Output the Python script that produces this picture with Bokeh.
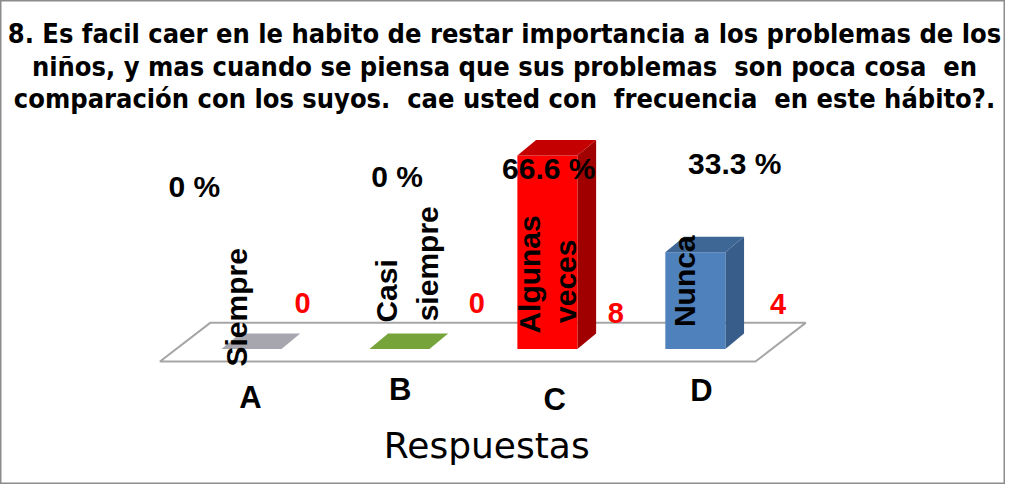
from bokeh.plotting import figure
from bokeh.models import Range1d
from bokeh.core.properties import value
from bokeh.embed import file_html
from bokeh.resources import INLINE
import math

# ---------------- data ----------------
letters = ["A", "B", "C", "D"]
names = [["Siempre"], ["Casi", "siempre"], ["Algunas", "veces"], ["Nunca"]]
counts = [0, 0, 8, 4]
percents = ["0 %", "0 %", "66.6 %", "33.3 %"]
front_colors = ["#A7A6AE", "#77A33B", "#FF0000", "#4F81BD"]
top_colors = ["#A7A6AE", "#77A33B", "#C40000", "#3F6796"]
side_colors = ["#8E8D95", "#5E8530", "#A00000", "#385D8A"]
title_lines = [
    "8. Es facil caer en le habito de restar importancia a los problemas de los",
    "niños, y mas cuando se piensa que sus problemas  son poca cosa  en",
    "comparación con los suyos.  cae usted con  frecuencia  en este hábito?.",
]
axis_title = "Respuestas"

W, H = 1005, 484
X0, XS = 255.0, 150.3   # pixel of category 0, pixels per category
Y0, YS = 360.0, 25.0    # pixel of value 0, pixels per unit


def px(x):
    return (x - X0) / XS


def py(y):
    return (Y0 - y) / YS


p = figure(width=W, height=H, output_backend="svg", toolbar_location=None,
           x_range=Range1d(px(0), px(1021)), y_range=Range1d(py(500), py(0)),
           min_border=0, background_fill_color="white", border_fill_color="white")
p.axis.visible = False
p.grid.visible = False
p.outline_line_color = "#8C8C8C"
p.outline_line_width = 2

# ---------------- floor ----------------
fdx, fdy = 51 / XS, 40 / YS
f_left, f_right, f_front = px(162), px(767), py(373)
p.patch([f_left, f_right, f_right + fdx, f_left + fdx],
        [f_front, f_front, f_front + fdy, f_front + fdy],
        fill_color="white", line_color="#A6A6A6", line_width=2)

# ---------------- 3D bars ----------------
bw = 61 / XS
ddx, ddy = 19 / XS, 16 / YS
idx = list(range(len(counts)))
lefts = [i - bw / 2 for i in idx]
rights = [i + bw / 2 for i in idx]

side_xs, side_ys, sc = [], [], []
for i, c in enumerate(counts):
    if c > 0:
        side_xs.append([rights[i], rights[i] + ddx, rights[i] + ddx, rights[i]])
        side_ys.append([0, ddy, c + ddy, c])
        sc.append(side_colors[i])
p.patches(side_xs, side_ys, fill_color=sc, line_color=None)

p.quad(left=[lefts[i] for i in idx if counts[i] > 0],
       right=[rights[i] for i in idx if counts[i] > 0],
       bottom=0, top=[counts[i] for i in idx if counts[i] > 0],
       fill_color=[front_colors[i] for i in idx if counts[i] > 0], line_color=None)

top_xs = [[lefts[i], rights[i], rights[i] + ddx, lefts[i] + ddx] for i in idx]
top_ys = [[c, c, c + ddy, c + ddy] for c in counts]
p.patches(top_xs, top_ys, fill_color=top_colors, line_color=None)

# ---------------- texts ----------------
FONT = "Liberation Sans"

def txt(x, y, t, size, color="black", angle=0.0, font=FONT, style="bold",
        align="center", baseline="middle"):
    p.text(x=[x], y=[y], text=[t], text_font=value(font), text_font_size=size,
           text_font_style=style, text_color=color, angle=angle,
           text_align=align, text_baseline=baseline)

# title (keep the doubled spaces visible)
for line, yc in zip(title_lines, [34, 68, 101]):
    shown = line.replace("  ", "\u00a0 ")
    txt(px(512), py(yc), shown, "27px", font="DejaVu Sans Condensed, Liberation Sans")

# percentages
pct_pos = [(197, 192), (403, 182), (557, 174), (746, 168)]
for t, (x, y) in zip(percents, pct_pos):
    txt(px(x), py(y), t, "30px")

# counts
cnt_pos = [(307, 313), (484, 312), (625, 323), (790, 314)]
for c, (x, y) in zip(counts, cnt_pos):
    txt(px(x), py(y), str(c), "29px", color="#FF0000")

# category names (rotated)
name_pos = [[(240, 317)], [(392, 300), (434, 272)], [(537, 283), (574, 290)], [(695, 290)]]
for lines, poss in zip(names, name_pos):
    for t, (x, y) in zip(lines, poss):
        txt(px(x), py(y), t, "30px", angle=math.pi / 2)

# letters
let_pos = [(254, 410), (406, 402), (563, 412), (712, 403)]
for t, (x, y) in zip(letters, let_pos):
    txt(px(x), py(y), t, "31px")

txt(px(494), py(460), axis_title, "36px", font="DejaVu Sans", style="normal")

open("out.html", "w").write(file_html(p, INLINE))
